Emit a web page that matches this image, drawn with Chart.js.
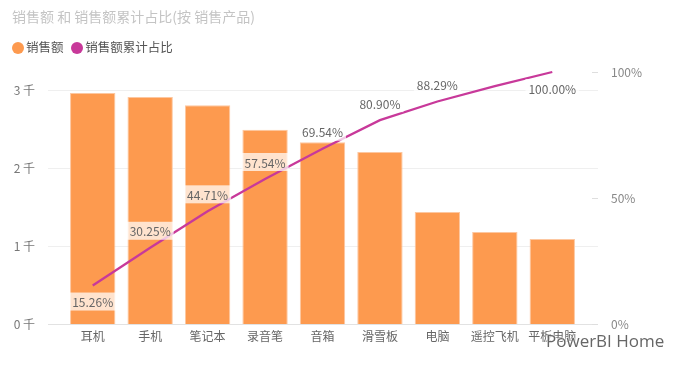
<!DOCTYPE html>
<html>
<head>
<meta charset="utf-8">
<script src="https://cdn.jsdelivr.net/npm/chart.js@4"></script>
<style>
  html, body { margin: 0; padding: 0; background: #fff; }
  #wrap { position: relative; width: 684px; height: 367px; font-family: "Noto Sans CJK SC", "Noto Sans", sans-serif; }
  #title { position: absolute; left: 12px; top: 6px; font-size: 14px; color: #c4c4c4; white-space: nowrap; }
  #legend { position: absolute; left: 12px; top: 37px; font-size: 12.5px; color: #555; white-space: nowrap; }
  #legend span.dot { display: inline-block; width: 12px; height: 12px; border-radius: 50%; vertical-align: -2px; margin-right: 2px; }
  #legend span.item { margin-right: 5px; }
  #wm { position: absolute; left: 546px; top: 329px; font-size: 17px; color: #666; font-family: "Open Sans", sans-serif;
        text-shadow: 0 0 2px #fff, 0 0 2px #fff, 0 0 2px #fff; white-space: nowrap; }
</style>
</head>
<body>
<div id="wrap">
  <canvas id="grafico" width="684" height="367"></canvas>
  <div id="title">销售额 和 销售额累计占比(按 销售产品)</div>
  <div id="legend">
    <span class="item"><span class="dot" style="background:#FD9A4F"></span>销售额</span>
    <span class="item"><span class="dot" style="background:#C8399A"></span>销售额累计占比</span>
  </div>
  <div id="wm">PowerBI Home</div>
</div>
<script>
// dados
const produtos = ['耳机', '手机', '笔记本', '录音笔', '音箱', '滑雪板', '电脑', '遥控飞机', '平板电脑'];
const vendas = [2960, 2908, 2805, 2489, 2328, 2204, 1434, 1180, 1090];
const acumulado = [15.26, 30.25, 44.71, 57.54, 69.54, 80.90, 88.29, 94.38, 100.00];
// rótulos visíveis (o de 94.38% não aparece no original)
const rotulosVisiveis = [true, true, true, true, true, true, true, false, true];
const rotulosAbaixo = [true, false, false, false, false, false, false, false, true];
const ticksEsq = [0, 1000, 2000, 3000];
const ticksDir = [0, 50, 100];

const fonte = '"Noto Sans CJK SC", "Noto Sans", sans-serif';

// grade horizontal mais larga que a área do gráfico + marcas do eixo direito
const gradePlugin = {
  id: 'grade',
  beforeDatasetsDraw(chart) {
    const ctx = chart.ctx;
    const y = chart.scales.y;
    const y1 = chart.scales.y1;
    ctx.save();
    ctx.lineWidth = 1;
    ticksEsq.forEach(function(v) {
      const py = Math.round(y.getPixelForValue(v)) + 0.5;
      ctx.strokeStyle = v === 0 ? '#e2e2e2' : '#efefef';
      ctx.beginPath();
      ctx.moveTo(48, py);
      ctx.lineTo(598, py);
      ctx.stroke();
    });
    ctx.strokeStyle = '#dedede';
    ticksDir.forEach(function(v) {
      const py = Math.round(y1.getPixelForValue(v)) + 0.5;
      ctx.beginPath();
      ctx.moveTo(592, py);
      ctx.lineTo(598, py);
      ctx.stroke();
    });
    ctx.restore();
  }
};

// rótulos de porcentagem sobre a linha
const rotulosPlugin = {
  id: 'rotulos',
  afterDatasetsDraw(chart) {
    const ctx = chart.ctx;
    const meta = chart.getDatasetMeta(1);
    ctx.save();
    ctx.font = '12px ' + fonte;
    ctx.textAlign = 'center';
    ctx.textBaseline = 'middle';
    meta.data.forEach(function(pt, i) {
      if (!rotulosVisiveis[i]) return;
      const txt = acumulado[i].toFixed(2) + '%';
      const cy = rotulosAbaixo[i] ? pt.y + 16 : pt.y - 17;
      const w = ctx.measureText(txt).width + 6;
      ctx.fillStyle = 'rgba(255,255,255,0.72)';
      ctx.fillRect(pt.x - w / 2, cy - 9, w, 18);
      ctx.fillStyle = '#666';
      ctx.fillText(txt, pt.x, cy + 1);
    });
    ctx.restore();
  }
};

const ctx = document.getElementById('grafico').getContext('2d');
new Chart(ctx, {
  data: {
    labels: produtos,
    datasets: [{
      type: 'bar',
      label: '销售额',
      data: vendas,
      backgroundColor: '#FD9A4F',
      borderColor: '#FDC7A0',
      borderWidth: 1,
      barPercentage: 0.79,
      categoryPercentage: 1,
      yAxisID: 'y',
      order: 2
    }, {
      type: 'line',
      label: '销售额累计占比',
      data: acumulado,
      borderColor: '#C8399A',
      borderWidth: 2.3,
      pointRadius: 0,
      tension: 0,
      clip: false,
      yAxisID: 'y1',
      order: 1
    }]
  },
  options: {
    responsive: false,
    animation: false,
    devicePixelRatio: 1,
    layout: { padding: { top: 72, left: 0, right: 0, bottom: 0 } },
    plugins: {
      legend: { display: false },
      title: { display: false },
      tooltip: { enabled: false }
    },
    scales: {
      x: {
        offset: true,
        grid: { display: false, drawTicks: false },
        border: { display: false },
        ticks: { color: '#666', font: { size: 12, family: fonte }, padding: 5, maxRotation: 0, autoSkip: false },
        afterFit: function(s) { s.height = 43; }
      },
      y: {
        position: 'left',
        min: 0,
        max: 3230,
        grid: { display: false, drawTicks: false },
        border: { display: false },
        ticks: {
          padding: 29,
          color: '#777',
          font: { size: 12, family: fonte },
          callback: function(v) { return (v / 1000) + ' 千'; }
        },
        afterBuildTicks: function(s) { s.ticks = ticksEsq.map(function(v) { return { value: v }; }); },
        afterFit: function(s) { s.width = 64; }
      },
      y1: {
        position: 'right',
        min: 0,
        max: 100,
        grid: { display: false, drawTicks: false },
        border: { display: false },
        ticks: {
          padding: 30,
          color: '#888',
          font: { size: 12, family: fonte },
          callback: function(v) { return v + '%'; }
        },
        afterBuildTicks: function(s) { s.ticks = ticksDir.map(function(v) { return { value: v }; }); },
        afterFit: function(s) { s.width = 103; }
      }
    }
  },
  plugins: [gradePlugin, rotulosPlugin]
});
</script>
</body>
</html>
